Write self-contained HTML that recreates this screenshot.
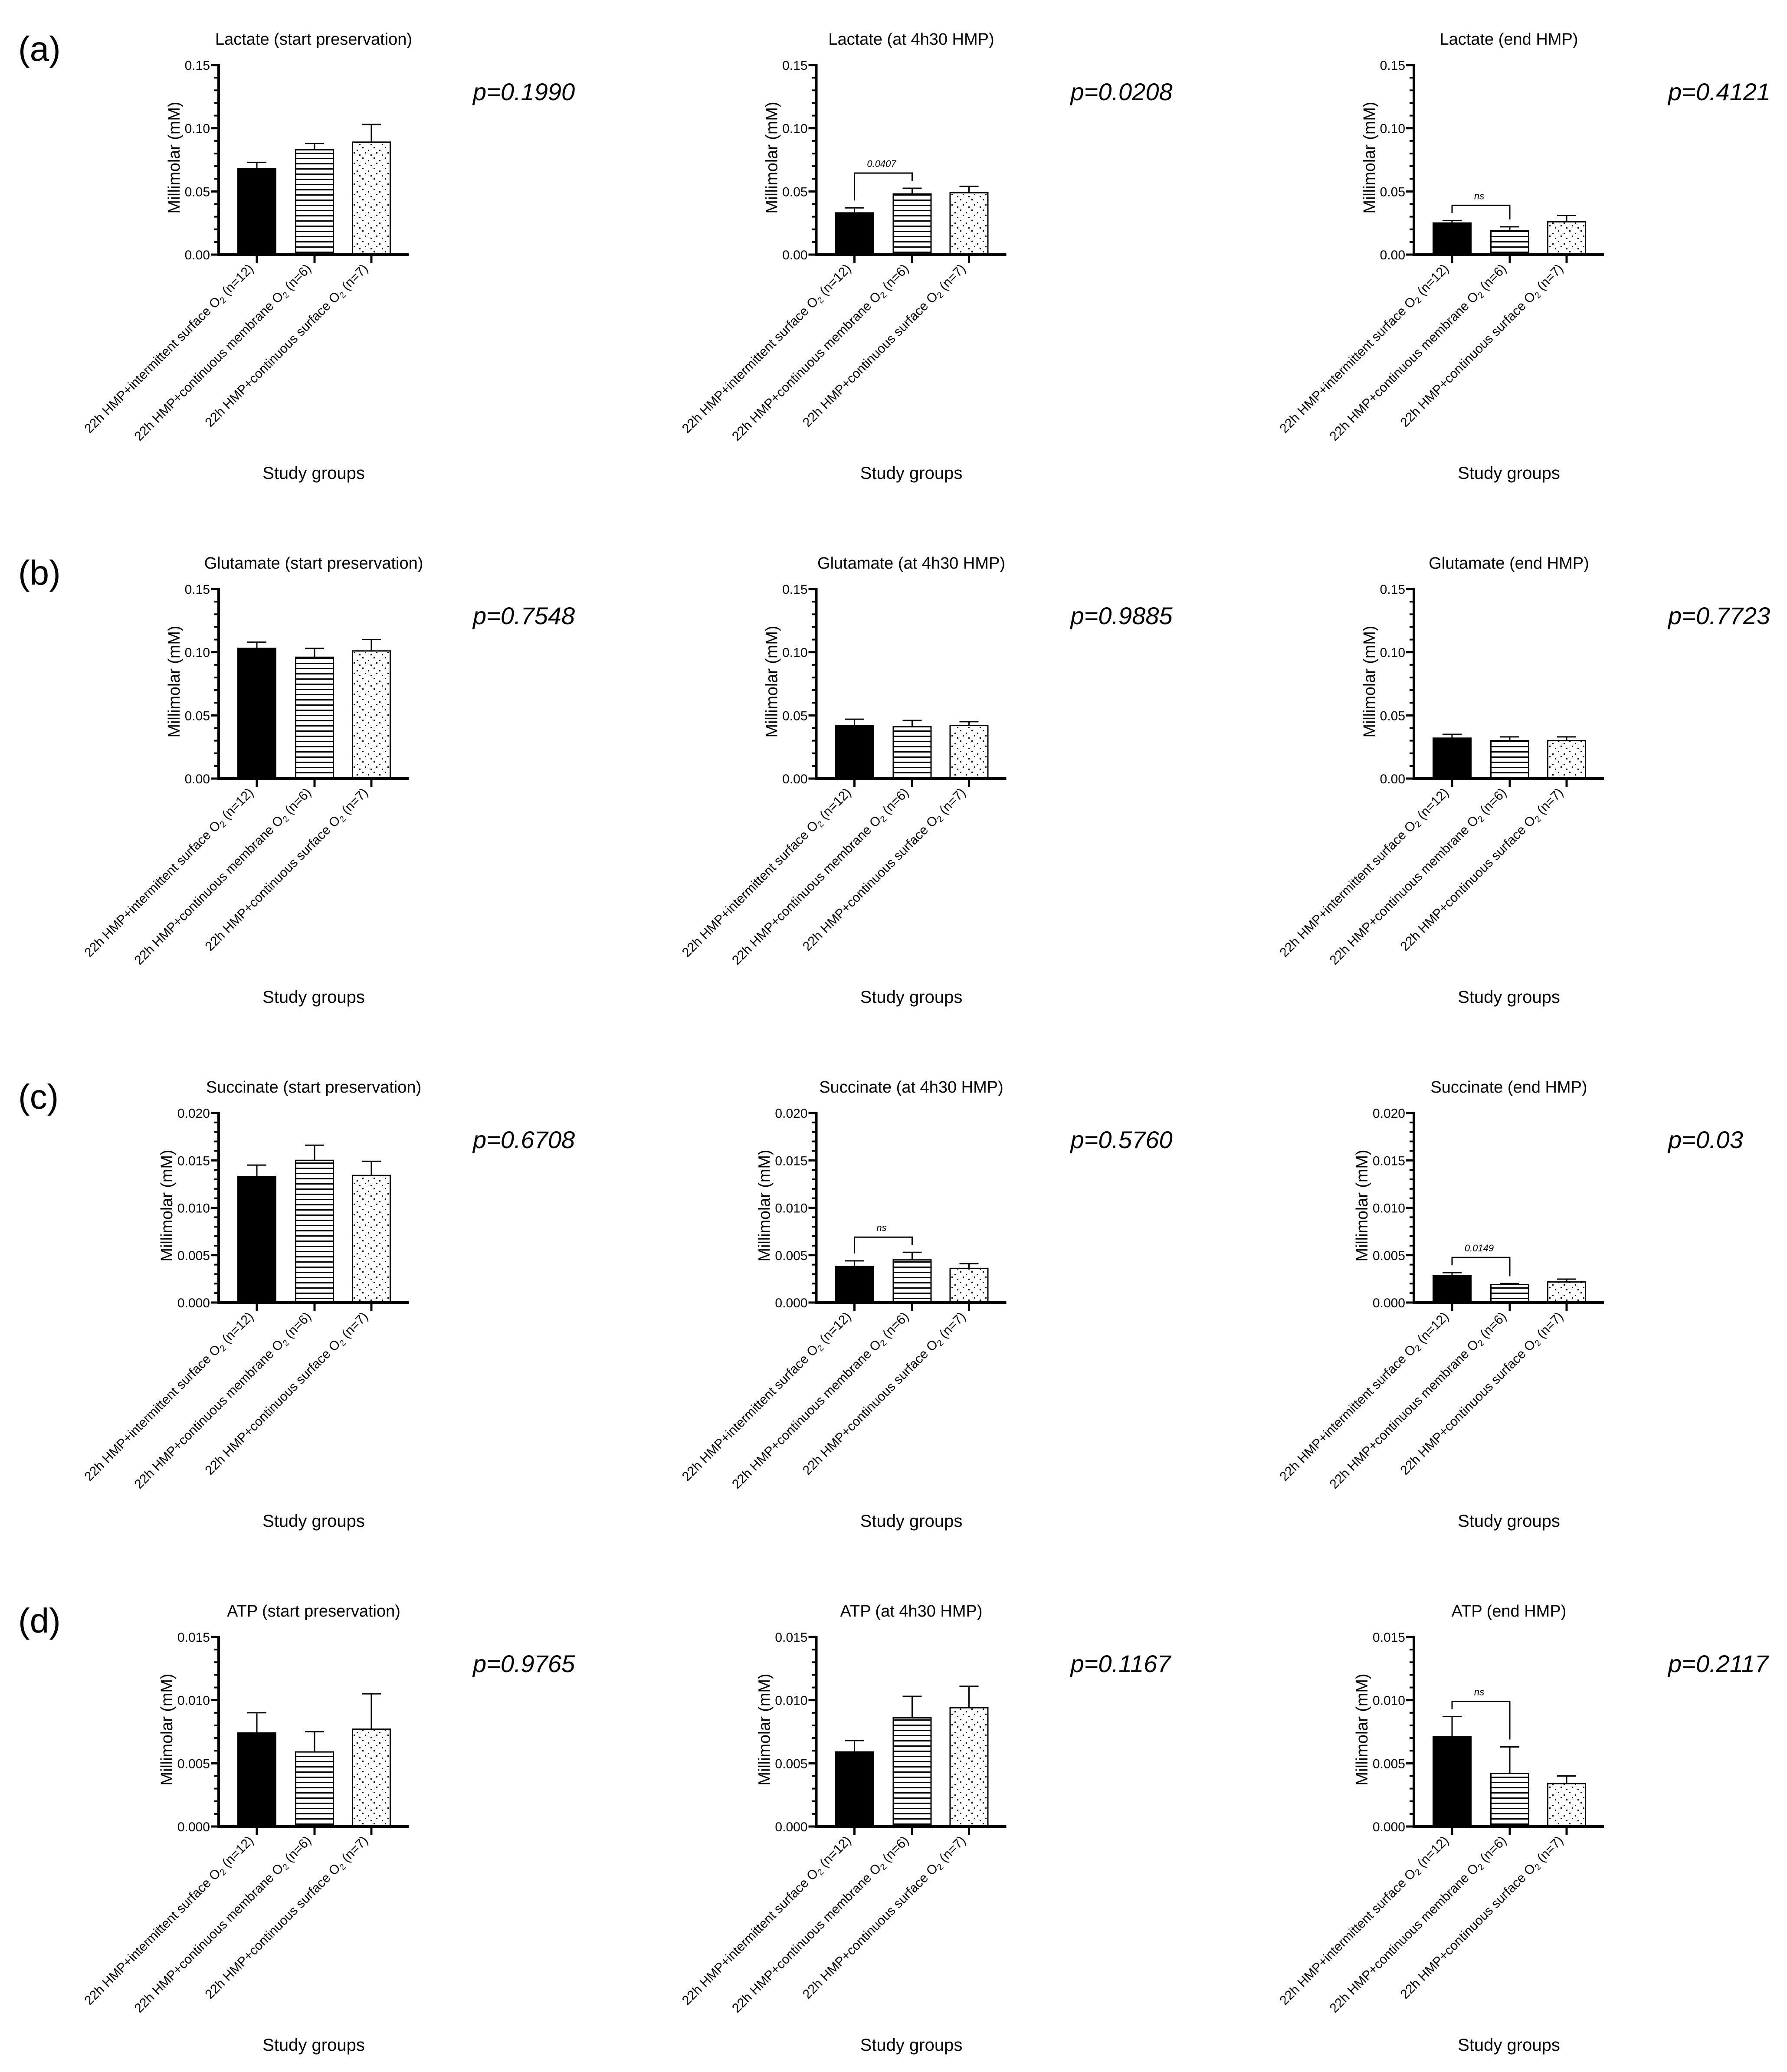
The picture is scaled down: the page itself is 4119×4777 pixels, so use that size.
<!DOCTYPE html>
<html><head><meta charset="utf-8"><title>Metabolite bar charts</title>
<style>
html,body{margin:0;padding:0;background:#fff;}
svg{display:block;font-family:"Liberation Sans",Arial,sans-serif;}
</style></head>
<body>
<svg id="fig" width="4119" height="4777" viewBox="0 0 4119 4777" xmlns="http://www.w3.org/2000/svg">
<defs>
<pattern id="hstripe" patternUnits="userSpaceOnUse" width="12" height="12">
<rect x="0" y="0" width="12" height="12" fill="#fff"/>
<rect x="0" y="4" width="12" height="3" fill="#000"/>
</pattern>
<pattern id="dots" patternUnits="userSpaceOnUse" width="26" height="24">
<rect x="0" y="0" width="26" height="24" fill="#fff"/>
<rect x="3" y="3" width="3" height="3" fill="#000"/>
<rect x="16" y="9" width="3" height="3" fill="#000"/>
<rect x="9" y="15" width="3" height="3" fill="#000"/>
<rect x="22" y="20" width="3" height="3" fill="#000"/>
</pattern>
</defs>
</svg>
<script>
// ---- data ----
const rowLabels = ["(a)","(b)","(c)","(d)"];
const metabolites = ["Lactate","Glutamate","Succinate","ATP"];
const timepoints = ["start preservation","at 4h30 HMP","end HMP"];
const groups = ["22h HMP+intermittent surface O|(n=12)","22h HMP+continuous membrane O|(n=6)","22h HMP+continuous surface O|(n=7)"];
const yMax = [0.15, 0.15, 0.020, 0.015];
const yStep = [0.05, 0.05, 0.005, 0.005];
const yMinor = [0.01, 0.01, 0.001, 0.001];
const yDecimals = [2, 2, 3, 3];
const lactateMeans = [[0.068,0.083,0.089],[0.033,0.048,0.049],[0.025,0.019,0.026]];
const lactateErr = [[0.005,0.005,0.014],[0.004,0.0045,0.005],[0.002,0.003,0.005]];
const glutamateMeans = [[0.103,0.096,0.101],[0.042,0.041,0.042],[0.032,0.030,0.030]];
const glutamateErr = [[0.005,0.007,0.009],[0.005,0.005,0.003],[0.003,0.003,0.003]];
const succinateMeans = [[0.0133,0.0150,0.0134],[0.0038,0.0045,0.0036],[0.00285,0.0019,0.00217]];
const succinateErr = [[0.0012,0.0016,0.0015],[0.0006,0.0008,0.0005],[0.0003,0.0001,0.0003]];
const atpMeans = [[0.0074,0.0059,0.0077],[0.0059,0.0086,0.0094],[0.0071,0.0042,0.0034]];
const atpErr = [[0.0016,0.0016,0.0028],[0.0009,0.0017,0.0017],[0.0016,0.0021,0.0006]];
const pValues = [["p=0.1990","p=0.0208","p=0.4121"],["p=0.7548","p=0.9885","p=0.7723"],["p=0.6708","p=0.5760","p=0.03"],["p=0.9765","p=0.1167","p=0.2117"]];
// brackets: [row, col, label] between group 1 and 2
const brackets = [[0,1,"0.0407"],[0,2,"ns"],[2,1,"ns"],[2,2,"0.0149"],[3,2,"ns"]];

const allMeans = [lactateMeans, glutamateMeans, succinateMeans, atpMeans];
const allErr = [lactateErr, glutamateErr, succinateErr, atpErr];
const fills = ["#000","url(#hstripe)","url(#dots)"];

// ---- layout ----
const NS = "http://www.w3.org/2000/svg";
const svg = document.getElementById("fig");
const ROW = 1208, COL = 1377.5;
const AX0 = 504, TOP0 = 150, PH = 437, PW = 438;
const barOff = [88, 221, 352], BW = 87;

function mk(tag, attrs, parent) {
  const e = document.createElementNS(NS, tag);
  for (const k in attrs) e.setAttribute(k, attrs[k]);
  (parent || svg).appendChild(e);
  return e;
}

for (let r = 0; r < 4; r++) {
  const rl = mk("text", {x: 42, y: 140 + r*ROW, "font-size": 80});
  rl.textContent = rowLabels[r];
  
  

  for (let c = 0; c < 3; c++) {
    const ax = AX0 + c*COL, top = TOP0 + r*ROW, y0 = top + PH;
    const g = mk("g", {});
    
    
    const ys = v => y0 - v / yMax[r] * PH;

    const t = mk("text", {x: ax + 219, y: 103 + r*ROW, "font-size": 38, "text-anchor": "middle"}, g);
    t.textContent = metabolites[r] + " (" + timepoints[c] + ")";
    
    

    const nMinor = Math.round(yMax[r] / yMinor[r]);
    for (let i = 0; i <= nMinor; i++) {
      const yy = ys(i * yMinor[r]);
      const tk = mk("line", {x1: ax - 10, x2: ax, y1: yy, y2: yy, stroke: "#000", "stroke-width": 4}, g);
      
      
    }
    const nMaj = Math.round(yMax[r] / yStep[r]);
    for (let i = 0; i <= nMaj; i++) {
      const v = i * yStep[r], yy = ys(v);
      const tk = mk("line", {x1: ax - 18, x2: ax, y1: yy, y2: yy, stroke: "#000", "stroke-width": 5}, g);
      
      
      const tl = mk("text", {x: ax - 20, y: yy + 11, "font-size": 30, "text-anchor": "end"}, g);
      tl.textContent = v.toFixed(yDecimals[r]);
      
      
    }
    const ya = mk("line", {x1: ax, x2: ax, y1: top - 2, y2: y0 + 3, stroke: "#000", "stroke-width": 6}, g);
    
    

    for (let k = 0; k < 3; k++) {
      const cx = ax + barOff[k];
      const m = allMeans[r][c][k], e = allErr[r][c][k];
      const by = ys(m);
      const eb = mk("line", {x1: cx, x2: cx, y1: ys(m + e), y2: by, stroke: "#000", "stroke-width": 3}, g);
      
      
      const cap = mk("line", {x1: cx - 22, x2: cx + 22, y1: ys(m + e), y2: ys(m + e), stroke: "#000", "stroke-width": 3}, g);
      
      
      const b = mk("rect", {x: cx - BW/2, y: by, width: BW, height: Math.max(0, y0 - by), fill: fills[k], stroke: "#000", "stroke-width": 3}, g);
      
      
      const xt = mk("line", {x1: cx, x2: cx, y1: y0, y2: y0 + 20, stroke: "#000", "stroke-width": 5}, g);
      
      
      const parts = groups[k].split("|");
      const lx = cx - 6, ly = y0 + 34;
      const xl = mk("text", {x: lx, y: ly, "font-size": 30, "text-anchor": "end", transform: "rotate(-45 " + lx + " " + ly + ")"}, g);
      
      
      const s1 = mk("tspan", {}, xl); s1.textContent = parts[0];
      const s2 = mk("tspan", {"font-size": 20, dy: 6}, xl); s2.textContent = "2";
      const s3 = mk("tspan", {dy: -6}, xl); s3.textContent = " " + parts[1];
    }
    const xa = mk("line", {x1: ax - 3, x2: ax + PW, y1: y0, y2: y0, stroke: "#000", "stroke-width": 6}, g);
    
    

    const yoff = yDecimals[r] === 3 ? 120 : 103;
    const yl = mk("text", {x: 0, y: 13, "font-size": 38, "text-anchor": "middle", textLength: 258, lengthAdjust: "spacingAndGlyphs", transform: "translate(" + (ax - yoff) + "," + ((top + y0)/2 - 5) + ") rotate(-90)"}, g);
    yl.textContent = "Millimolar (mM)";
    
    

    const xtl = mk("text", {x: ax + 219, y: y0 + 517, "font-size": 40, "text-anchor": "middle"}, g);
    xtl.textContent = "Study groups";
    
    

    const pv = mk("text", {x: ax + 586, y: top + 81, "font-size": 56, "font-style": "italic"}, g);
    pv.textContent = pValues[r][c];
    
    
  }
}

for (const [r, c, lab] of brackets) {
  const ax = AX0 + c*COL, top = TOP0 + r*ROW, y0 = top + PH;
  const ys = v => y0 - v / yMax[r] * PH;
  const m = allMeans[r][c], e = allErr[r][c];
  const t1 = ys(m[0] + e[0]), t2 = ys(m[1] + e[1]);
  const by = Math.min(t1, t2) - 35;
  const x1 = ax + barOff[0], x2 = ax + barOff[1];
  const br = mk("path", {d: "M" + x1 + "," + (t1 - 17) + " V" + by + " H" + x2 + " V" + (t2 - 17), fill: "none", stroke: "#000", "stroke-width": 3});
  
  
  const bl = mk("text", {x: (x1 + x2)/2 - 4, y: by - 14, "font-size": 22, "font-style": "italic", "text-anchor": "middle"});
  bl.textContent = lab;
  
  
}
</script>
</body></html>
